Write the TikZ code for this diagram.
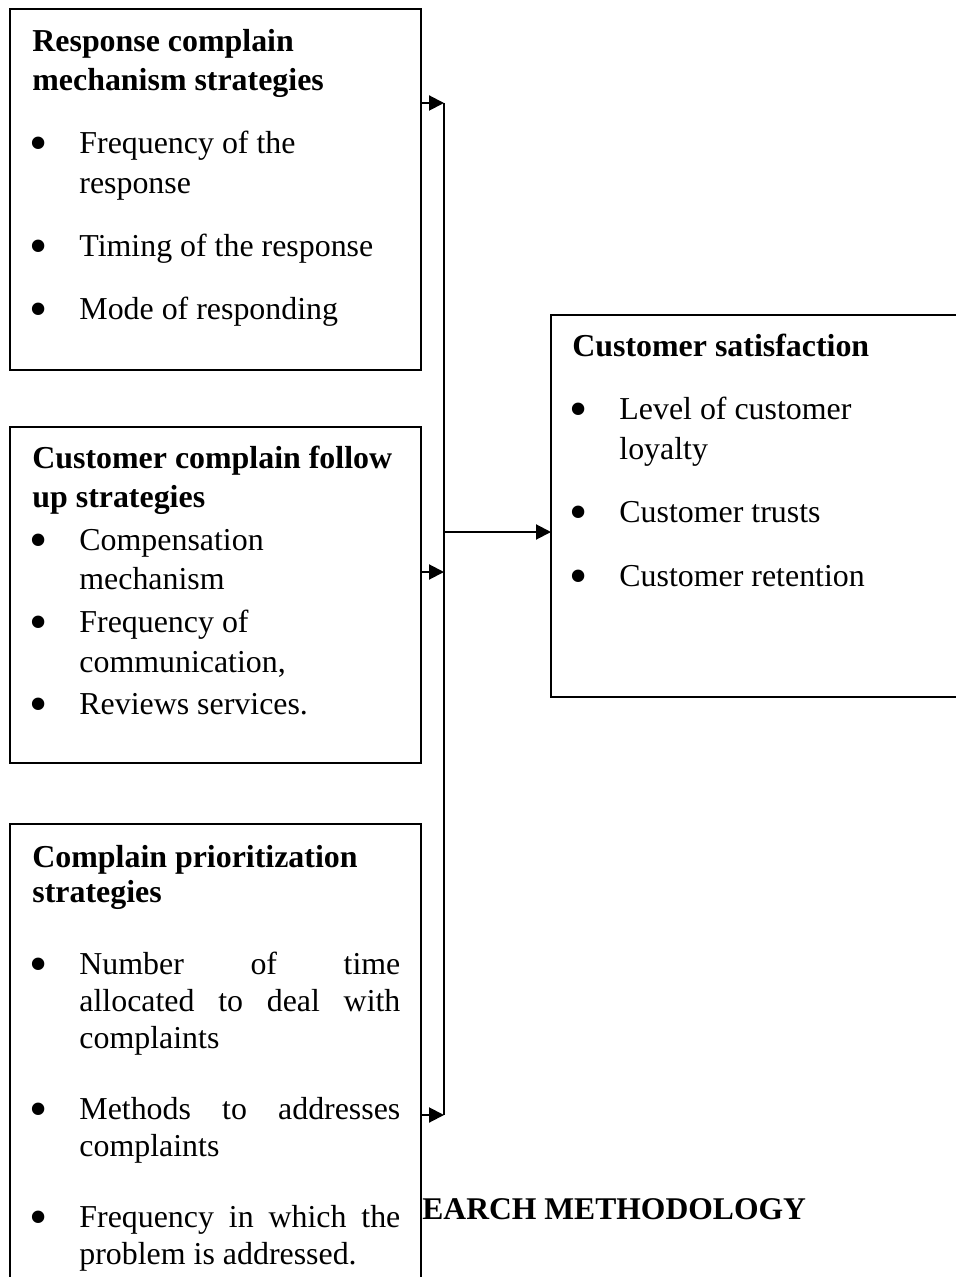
\documentclass[tikz,border=0pt]{standalone}
\usepackage{fontspec}
\setmainfont{Liberation Serif}
\usetikzlibrary{arrows.meta}
\begin{document}
\begin{tikzpicture}[x=0.5pt,y=-0.5pt,
  box/.style={draw, line width=0.8pt, fill=white, anchor=north west, inner sep=0pt, outer sep=0pt},
  txt/.style={anchor=base west, inner sep=0pt, yshift=-2pt, font=\fontsize{15.95pt}{20pt}\selectfont},
  hd/.style={anchor=base west, inner sep=0pt, yshift=-2pt, font=\fontsize{15.95pt}{20pt}\selectfont\bfseries},
  bul/.style={anchor=base, inner sep=0pt, yshift=-5.5pt, font=\fontsize{26pt}{26pt}\selectfont},
  arr/.style={line width=1pt, -{Triangle[length=7.5pt,width=7.5pt]}},
  bus/.style={line width=1pt}]
\useasboundingbox (0,0) rectangle (956,1277);
\clip (0,0) rectangle (956,1277);

% boxes
\node[box, minimum width=205.5pt, minimum height=180.5pt] (b1) at (10,9) {};
\node[box, minimum width=205.5pt, minimum height=168pt] (b2) at (10,427) {};
\node[box, minimum width=205.5pt, minimum height=240pt] (b3) at (10,824) {};
\node[box, minimum width=212pt, minimum height=191pt] (b4) at (551,315) {};

% box 1
\node[hd] (b1h1) at (32,48) {Response complain};
\node[hd] (b1h2) at (32,87) {mechanism strategies};
\node[bul] (b1u1) at (39,150) {•};
\node[txt] (b1t1) at (79,150) {Frequency of the};
\node[txt] (b1t2) at (79,190) {response};
\node[bul] (b1u2) at (39,253) {•};
\node[txt] (b1t3) at (79,253) {Timing of the response};
\node[bul] (b1u3) at (39,316) {•};
\node[txt] (b1t4) at (79,316) {Mode of responding};

% box 2
\node[hd] (b2h1) at (32,465) {Customer complain follow};
\node[hd] (b2h2) at (32,504) {up strategies};
\node[bul] (b2u1) at (39,546) {•};
\node[txt] (b2t1) at (79,546) {Compensation};
\node[txt] (b2t2) at (79,585) {mechanism};
\node[bul] (b2u2) at (39,628) {•};
\node[txt] (b2t3) at (79,628) {Frequency of};
\node[txt] (b2t4) at (79,668) {communication,};
\node[bul] (b2u3) at (39,710) {•};
\node[txt] (b2t5) at (79,710) {Reviews services.};

% box 3
\node[hd] (b3h1) at (32,863) {Complain prioritization};
\node[hd] (b3h2) at (32,898) {strategies};
\node[bul] (b3u1) at (39,970) {•};
\node[txt] (b3t1) at (79,970) {\makebox[160.5pt][s]{Number of time}};
\node[txt] (b3t2) at (79,1007) {\makebox[160.5pt][s]{allocated to deal with}};
\node[txt] (b3t3) at (79,1044) {complaints};
\node[bul] (b3u2) at (39,1115) {•};
\node[txt] (b3t4) at (79,1115) {\makebox[160.5pt][s]{Methods to addresses}};
\node[txt] (b3t5) at (79,1152) {complaints};
\node[bul] (b3u3) at (39,1223) {•};
\node[txt] (b3t6) at (79,1223) {\makebox[160.5pt][s]{Frequency in which the}};
\node[txt] (b3t7) at (79,1260) {problem is addressed.};

% box 4
\node[hd] (b4h1) at (572,353) {Customer satisfaction};
\node[bul] (b4u1) at (579,416) {•};
\node[txt] (b4t1) at (619,416) {Level of customer};
\node[txt] (b4t2) at (619,455) {loyalty};
\node[bul] (b4u2) at (579,519) {•};
\node[txt] (b4t3) at (619,519) {Customer trusts};
\node[bul] (b4u3) at (579,582) {•};
\node[txt] (b4t4) at (619,582) {Customer retention};

% stray heading
\node[hd, yshift=1.5pt, font=\fontsize{15.8pt}{20pt}\selectfont\bfseries] (meth) at (422,1218) {EARCH METHODOLOGY};

% connectors
\coordinate (j1) at (444,103);
\coordinate (j2) at (444,572);
\coordinate (j3) at (444,1115);
\coordinate (jm) at (444,532);
\draw[bus] (j1) -- (j3);
\draw[arr] (b1.east |- j1) -- (j1);
\draw[arr] (b2.east |- j2) -- (j2);
\draw[arr] (b3.east |- j3) -- (j3);
\draw[arr] (jm) -- (jm -| b4.west);
\end{tikzpicture}
\end{document}
